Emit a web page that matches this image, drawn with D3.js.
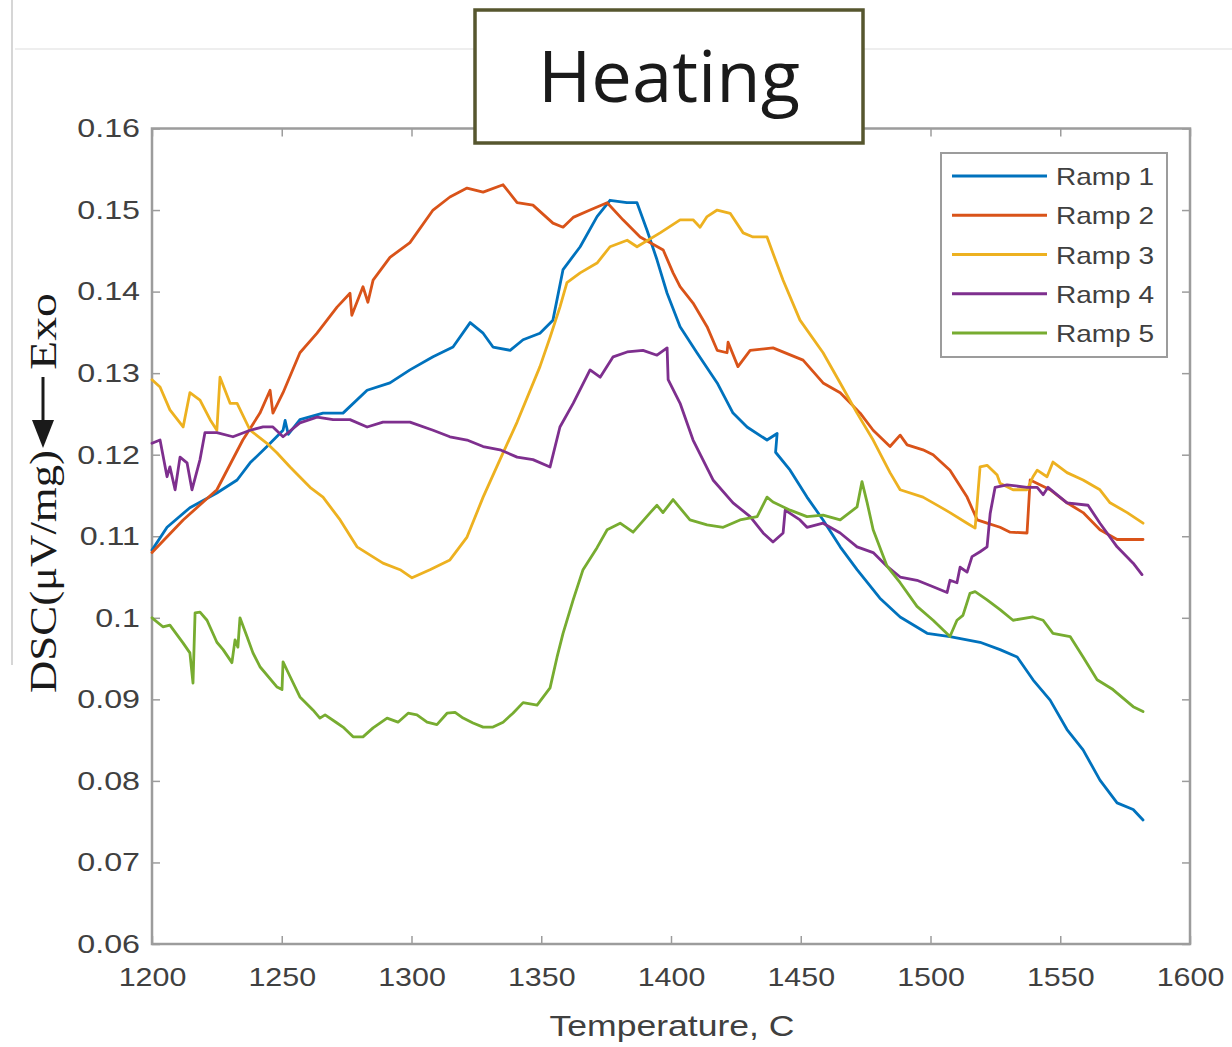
<!DOCTYPE html>
<html>
<head>
<meta charset="utf-8">
<script src="https://cdn.jsdelivr.net/npm/d3@7"></script>
<style>
  html, body { margin: 0; padding: 0; background: #fff; }
  svg { display: block; }
</style>
</head>
<body>
<svg id="chart" width="1232" height="1047"></svg>
<script>
// ---------------- data ----------------
const seriesNames = ["Ramp 1", "Ramp 2", "Ramp 3", "Ramp 4", "Ramp 5"];
const xTickValues = [1200, 1250, 1300, 1350, 1400, 1450, 1500, 1550, 1600];
const xTickLabels = ["1200", "1250", "1300", "1350", "1400", "1450", "1500", "1550", "1600"];
const yTickValues = [0.06, 0.07, 0.08, 0.09, 0.10, 0.11, 0.12, 0.13, 0.14, 0.15, 0.16];
const yTickLabels = ["0.06", "0.07", "0.08", "0.09", "0.1", "0.11", "0.12", "0.13", "0.14", "0.15", "0.16"];
const titleText = "Heating";
const xLabel = "Temperature, C";
const yLabelMain = "DSC(\u03bcV/mg)";
const yLabelExo = "Exo";

// [temperature, DSC]
const ramp1 = [[1200,0.1083],[1205.8,0.1111],[1214.6,0.1135],[1225,0.1153],[1232.8,0.1169],[1237.8,0.1190],[1244.3,0.1210],[1250.5,0.1230],[1251.3,0.1242],[1252.5,0.1225],[1257,0.1243],[1265.9,0.1251],[1273.6,0.1251],[1282.9,0.1279],[1291.7,0.1288],[1299.4,0.1304],[1308.3,0.1320],[1316,0.1332],[1322.6,0.1362],[1327.6,0.1349],[1331.4,0.1332],[1338,0.1328],[1343,0.1341],[1349.5,0.1349],[1354.5,0.1365],[1358.4,0.1427],[1365,0.1455],[1371.5,0.1492],[1376.5,0.1512],[1383,0.1509],[1386.9,0.1509],[1390.8,0.1475],[1394.6,0.1439],[1398.5,0.1398],[1403.5,0.1357],[1410,0.1325],[1417.8,0.1288],[1423.9,0.1251],[1429.3,0.1234],[1437,0.1218],[1440.9,0.1226],[1440.3,0.1203],[1445.9,0.1181],[1452.4,0.1148],[1458.6,0.1120],[1465.2,0.1087],[1471.7,0.1059],[1480.5,0.1024],[1488.3,0.1001],[1498.7,0.0981],[1507.5,0.0977],[1519.1,0.0970],[1526.8,0.0961],[1533.4,0.0952],[1539.5,0.0924],[1546.1,0.0899],[1552.6,0.0863],[1558.8,0.0838],[1565.3,0.0801],[1571.9,0.0773],[1578.1,0.0765],[1581.9,0.0752]];

const ramp2 = [[1200,0.1080],[1212,0.1120],[1225,0.1157],[1235,0.1218],[1241.6,0.1251],[1245.5,0.1279],[1246.6,0.1251],[1250.5,0.1276],[1257,0.1325],[1263.6,0.1349],[1271.3,0.1381],[1276.3,0.1398],[1277,0.1371],[1281.3,0.1406],[1283.2,0.1387],[1285.2,0.1414],[1291.7,0.1442],[1299.4,0.1460],[1308.3,0.1500],[1314.8,0.1516],[1321.4,0.1527],[1327.6,0.1522],[1335.3,0.1531],[1340.7,0.1509],[1346.8,0.1506],[1354.5,0.1484],[1358.4,0.1479],[1362.3,0.1491],[1368.8,0.1500],[1375.4,0.1509],[1381.5,0.1488],[1388.1,0.1467],[1397,0.1451],[1400.8,0.1423],[1403.5,0.1406],[1408.5,0.1386],[1413.9,0.1357],[1417.8,0.1328],[1421.6,0.1325],[1422,0.1338],[1425.8,0.1308],[1430.5,0.1328],[1439.3,0.1331],[1450.9,0.1316],[1458.6,0.1288],[1465.2,0.1276],[1472.9,0.1251],[1477.9,0.1230],[1484.4,0.1210],[1488.3,0.1224],[1491,0.1212],[1497.1,0.1206],[1501,0.1200],[1507.5,0.1181],[1514.1,0.1148],[1518,0.1120],[1521.8,0.1116],[1526.8,0.1111],[1530.7,0.1105],[1537.2,0.1104],[1538.4,0.1169],[1546.1,0.1157],[1552.6,0.1141],[1558.8,0.1129],[1565.3,0.1108],[1571.9,0.1096],[1581.9,0.1096]];

const ramp3 = [[1200,0.1292],[1203.1,0.1283],[1206.9,0.1255],[1212,0.1234],[1214.6,0.1276],[1218.5,0.1267],[1222.4,0.1243],[1225,0.1230],[1226.2,0.1295],[1230.1,0.1263],[1232.8,0.1263],[1237.8,0.1230],[1244.3,0.1214],[1248.2,0.1202],[1253.2,0.1185],[1260.9,0.1160],[1265.9,0.1148],[1272.5,0.1120],[1279,0.1087],[1289,0.1067],[1295.6,0.1059],[1300.2,0.1049],[1307.1,0.1059],[1314.8,0.1071],[1321.4,0.1099],[1327.6,0.1148],[1334.1,0.1194],[1340.7,0.1240],[1349.5,0.1308],[1353.4,0.1344],[1357.2,0.1381],[1359.9,0.1411],[1365,0.1423],[1371.5,0.1435],[1376.5,0.1455],[1383.1,0.1463],[1386.9,0.1455],[1395.8,0.1472],[1403.5,0.1488],[1408.5,0.1488],[1411.2,0.1479],[1413.9,0.1492],[1417.8,0.1500],[1422.8,0.1496],[1427.8,0.1472],[1431.6,0.1467],[1437,0.1467],[1439.3,0.1447],[1443.2,0.1414],[1449.7,0.1365],[1458.6,0.1325],[1465.2,0.1288],[1471.7,0.1251],[1477.9,0.1218],[1484.4,0.1178],[1488.3,0.1157],[1497.1,0.1148],[1503.7,0.1136],[1507.5,0.1129],[1514.1,0.1116],[1517.2,0.1110],[1519.1,0.1185],[1521.8,0.1187],[1525.7,0.1175],[1526.8,0.1165],[1531.8,0.1157],[1537.2,0.1157],[1539.5,0.1173],[1541.1,0.1181],[1544.9,0.1173],[1547.2,0.1191],[1552.6,0.1178],[1558.8,0.1169],[1565.3,0.1157],[1569.2,0.1141],[1575.8,0.1129],[1581.9,0.1116]];

const ramp4 = [[1200,0.1214],[1203.1,0.1218],[1205.8,0.1173],[1206.9,0.1185],[1208.9,0.1157],[1210.8,0.1197],[1213.5,0.1190],[1215.4,0.1157],[1218.5,0.1194],[1220.4,0.1227],[1225,0.1227],[1231.2,0.1222],[1237.8,0.1230],[1242.8,0.1234],[1246.6,0.1234],[1250.5,0.1222],[1257,0.1239],[1263.6,0.1246],[1269.8,0.1243],[1276.3,0.1243],[1282.9,0.1234],[1289,0.1240],[1299.4,0.1240],[1308.3,0.1230],[1314.8,0.1222],[1321.4,0.1218],[1327.6,0.1210],[1334.1,0.1206],[1340.7,0.1197],[1346.8,0.1194],[1353.4,0.1185],[1357.2,0.1234],[1362.3,0.1263],[1368.8,0.1304],[1372.7,0.1295],[1377.7,0.1320],[1383.1,0.1326],[1389.2,0.1328],[1394.6,0.1322],[1398.5,0.1331],[1398.9,0.1292],[1403.5,0.1263],[1408.5,0.1218],[1416.2,0.1169],[1423.9,0.1141],[1430.5,0.1124],[1435.5,0.1104],[1439.3,0.1093],[1443.2,0.1104],[1444,0.1132],[1449.7,0.1120],[1452.4,0.1111],[1458.6,0.1116],[1465.2,0.1104],[1471.7,0.1087],[1477.9,0.1080],[1483.3,0.1063],[1488.3,0.1050],[1494.8,0.1046],[1501,0.1038],[1506.4,0.1031],[1507.5,0.1046],[1510.2,0.1043],[1511.4,0.1062],[1514.1,0.1056],[1516,0.1075],[1519.1,0.1081],[1521.8,0.1087],[1523,0.1128],[1524.9,0.1160],[1529.5,0.1163],[1537.2,0.1160],[1541.1,0.1160],[1543.4,0.1151],[1545.3,0.1160],[1552.6,0.1141],[1560.7,0.1138],[1565.3,0.1116],[1571.9,0.1087],[1578.1,0.1067],[1581.5,0.1053]];

const ramp5 = [[1200,0.1000],[1204.2,0.0989],[1206.9,0.0991],[1212,0.0969],[1214.6,0.0957],[1215.8,0.0920],[1216.6,0.1006],[1218.5,0.1007],[1221.2,0.0997],[1225,0.0970],[1227.4,0.0961],[1230.8,0.0945],[1232,0.0973],[1233.1,0.0964],[1233.9,0.1000],[1236.6,0.0977],[1238.9,0.0957],[1241.6,0.0940],[1248.2,0.0915],[1250.1,0.0912],[1250.5,0.0946],[1253.2,0.0928],[1257,0.0903],[1262,0.0887],[1264.7,0.0877],[1266.7,0.0881],[1271.3,0.0871],[1273.6,0.0866],[1277.5,0.0854],[1281.3,0.0854],[1285.2,0.0865],[1290.6,0.0877],[1294.8,0.0872],[1298.7,0.0883],[1302.1,0.0881],[1306,0.0872],[1309.8,0.0869],[1313.7,0.0883],[1316.8,0.0884],[1319.9,0.0877],[1323.7,0.0871],[1327.6,0.0866],[1331.4,0.0866],[1335.3,0.0872],[1339.1,0.0883],[1343,0.0896],[1348.4,0.0893],[1353.4,0.0914],[1356.1,0.0952],[1358.4,0.0981],[1362.3,0.1022],[1366.1,0.1059],[1371.5,0.1086],[1375.4,0.1108],[1380.4,0.1116],[1385.4,0.1105],[1392,0.1129],[1394.6,0.1138],[1396.9,0.1129],[1400.8,0.1145],[1407.3,0.1120],[1413.9,0.1114],[1420.1,0.1111],[1426.6,0.1120],[1433.2,0.1124],[1437,0.1148],[1439.3,0.1142],[1445.9,0.1132],[1452.4,0.1124],[1458.6,0.1126],[1465.2,0.1120],[1471.7,0.1136],[1473.6,0.1167],[1475.6,0.1141],[1477.9,0.1108],[1483.3,0.1063],[1488.3,0.1043],[1494.8,0.1014],[1501,0.0997],[1507.5,0.0977],[1510.2,0.0997],[1512.5,0.1003],[1515.2,0.1030],[1517.2,0.1032],[1521.8,0.1022],[1526.8,0.1010],[1531.8,0.0997],[1539.5,0.1001],[1543.4,0.0997],[1547.2,0.0981],[1553.8,0.0977],[1558.8,0.0952],[1564.2,0.0924],[1570.3,0.0912],[1578.1,0.0891],[1581.9,0.0885]];

const seriesData = [ramp1, ramp2, ramp3, ramp4, ramp5];
const seriesColors = ["#0072BD", "#D95319", "#EDB120", "#7E2F8E", "#77AC30"];

// ---------------- layout ----------------
const svg = d3.select("#chart");
const plot = { left: 152, right: 1190, top: 128.5, bottom: 944 };

const x = d3.scaleLinear().domain([1200, 1600]).range([plot.left, plot.right]);
const y = d3.scaleLinear().domain([0.06, 0.16]).range([plot.bottom, plot.top]);

// faint background guide lines (from the source slide)
svg.append("line").attr("x1", 15).attr("x2", 1232).attr("y1", 49).attr("y2", 49)
  .attr("stroke", "#e8e8e8").attr("stroke-width", 1.5);
svg.append("line").attr("x1", 12).attr("x2", 12).attr("y1", 0).attr("y2", 665)
  .attr("stroke", "#c8c8c8").attr("stroke-width", 1.5);

// plot background
svg.append("rect").attr("x", plot.left).attr("y", plot.top)
  .attr("width", plot.right - plot.left).attr("height", plot.bottom - plot.top)
  .attr("fill", "#fff");

const axisColor = "#9c9c9c";
const labelColor = "#404040";
const stretch = function(f) {
  return function() { return this.getComputedTextLength() * f; };
};

// bottom axis
const gx = svg.append("g").attr("transform", `translate(0,${plot.bottom})`)
  .call(d3.axisBottom(x).tickValues(xTickValues).tickFormat((d, i) => xTickLabels[i])
    .tickSizeInner(-8).tickSizeOuter(0).tickPadding(24));
gx.select(".domain").remove();
gx.selectAll(".tick line").attr("stroke", axisColor).attr("stroke-width", 1.5);
gx.selectAll(".tick text").attr("fill", labelColor)
  .style("font-family", "'Liberation Sans', Arial, sans-serif").style("font-size", "26px")
  .attr("lengthAdjust", "spacingAndGlyphs").attr("textLength", stretch(1.17));

// left axis
const gy = svg.append("g").attr("transform", `translate(${plot.left},0)`)
  .call(d3.axisLeft(y).tickValues(yTickValues).tickFormat((d, i) => yTickLabels[i])
    .tickSizeInner(-8).tickSizeOuter(0).tickPadding(12));
gy.select(".domain").remove();
gy.selectAll(".tick line").attr("stroke", axisColor).attr("stroke-width", 1.5);
gy.selectAll(".tick text").attr("fill", labelColor)
  .style("font-family", "'Liberation Sans', Arial, sans-serif").style("font-size", "26px")
  .attr("lengthAdjust", "spacingAndGlyphs").attr("textLength", stretch(1.24));

// top / right mirrored ticks
const gt = svg.append("g").attr("transform", `translate(0,${plot.top})`)
  .call(d3.axisTop(x).tickValues(xTickValues).tickFormat("").tickSizeInner(-8).tickSizeOuter(0));
gt.select(".domain").remove();
gt.selectAll(".tick line").attr("stroke", axisColor).attr("stroke-width", 1.5);
const gr = svg.append("g").attr("transform", `translate(${plot.right},0)`)
  .call(d3.axisRight(y).tickValues(yTickValues).tickFormat("").tickSizeInner(-8).tickSizeOuter(0));
gr.select(".domain").remove();
gr.selectAll(".tick line").attr("stroke", axisColor).attr("stroke-width", 1.5);

// box
svg.append("rect").attr("x", plot.left).attr("y", plot.top)
  .attr("width", plot.right - plot.left).attr("height", plot.bottom - plot.top)
  .attr("fill", "none").attr("stroke", axisColor).attr("stroke-width", 2.5);

// lines
const line = d3.line().x(d => x(d[0])).y(d => y(d[1]));
svg.append("g").selectAll("path").data(seriesData).join("path")
  .attr("d", line)
  .attr("fill", "none")
  .attr("stroke", (d, i) => seriesColors[i])
  .attr("stroke-width", 2.8)
  .attr("stroke-linejoin", "round")
  .attr("stroke-linecap", "round");

// x label
svg.append("text").attr("x", 672).attr("y", 1036).attr("text-anchor", "middle")
  .attr("fill", labelColor)
  .style("font-family", "'Liberation Sans', Arial, sans-serif").style("font-size", "30px")
  .attr("textLength", 245).attr("lengthAdjust", "spacingAndGlyphs")
  .text(xLabel);

// y label : DSC(μV/mg) ← Exo  (rotated)
const yl = svg.append("g").attr("transform", "translate(56,0) rotate(-90)");
yl.append("text").attr("x", -693).attr("y", 0)
  .attr("fill", "#1a1a1a")
  .style("font-family", "'Liberation Serif', 'Times New Roman', serif").style("font-size", "38px")
  .attr("textLength", 243).attr("lengthAdjust", "spacingAndGlyphs")
  .text(yLabelMain);
yl.append("text").attr("x", -370).attr("y", 0)
  .attr("fill", "#1a1a1a")
  .style("font-family", "'Liberation Serif', 'Times New Roman', serif").style("font-size", "38px")
  .attr("textLength", 77).attr("lengthAdjust", "spacingAndGlyphs")
  .text(yLabelExo);
// arrow (pointing toward DSC, i.e. downward on screen)
yl.append("line").attr("x1", -420).attr("x2", -377).attr("y1", -13).attr("y2", -13)
  .attr("stroke", "#1a1a1a").attr("stroke-width", 3);
yl.append("path").attr("d", "M -448 -13 L -420 -24 L -420 -2 Z").attr("fill", "#1a1a1a");

// legend
const lg = svg.append("g");
lg.append("rect").attr("x", 941).attr("y", 153).attr("width", 226).attr("height", 204)
  .attr("fill", "#fff").attr("stroke", "#9c9c9c").attr("stroke-width", 2);
const legendY = d3.scaleLinear().domain([0, 4]).range([176, 333]);
seriesNames.forEach((name, i) => {
  const yy = legendY(i);
  lg.append("line").attr("x1", 952).attr("x2", 1047).attr("y1", yy).attr("y2", yy)
    .attr("stroke", seriesColors[i]).attr("stroke-width", 2.8);
  lg.append("text").attr("x", 1056).attr("y", yy + 9)
    .attr("fill", labelColor)
    .style("font-family", "'Liberation Sans', Arial, sans-serif").style("font-size", "24px")
    .attr("textLength", 98).attr("lengthAdjust", "spacingAndGlyphs")
    .text(name);
});

// title box
svg.append("rect").attr("x", 475).attr("y", 10).attr("width", 388).attr("height", 133)
  .attr("fill", "#fff").attr("stroke", "#56562e").attr("stroke-width", 3.5);
svg.append("text").attr("x", 669).attr("y", 102).attr("text-anchor", "middle")
  .attr("fill", "#1a1a1a")
  .style("font-family", "'Open Sans', 'Noto Sans', sans-serif").style("font-size", "72px")
  .attr("textLength", 262).attr("lengthAdjust", "spacingAndGlyphs")
  .text(titleText);
</script>
</body>
</html>
